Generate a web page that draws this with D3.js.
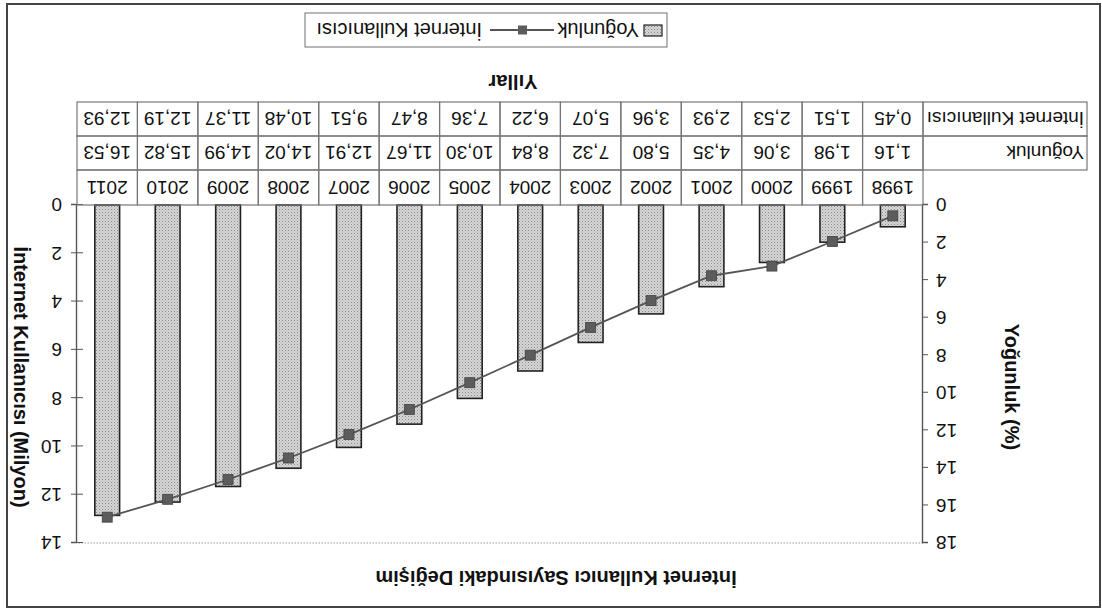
<!DOCTYPE html>
<html><head><meta charset="utf-8">
<script src="https://cdn.jsdelivr.net/npm/d3@7"></script>
<style>body{margin:0;background:#fff}svg{display:block}text{font-family:"Liberation Sans",Arial,sans-serif;fill:#111}</style>
</head><body>
<svg id="c" width="1102" height="612"></svg>
<script>
const years = [1998,1999,2000,2001,2002,2003,2004,2005,2006,2007,2008,2009,2010,2011];
const yogunluk = [1.16,1.98,3.06,4.35,5.80,7.32,8.84,10.30,11.67,12.91,14.02,14.99,15.82,16.53];
const internet = [0.45,1.51,2.53,2.93,3.96,5.07,6.22,7.36,8.47,9.51,10.48,11.37,12.19,12.93];
const leftTicks = [0,2,4,6,8,10,12,14,16,18];
const rightTicks = [0,2,4,6,8,10,12,14];
const title = "İnternet Kullanıcı Sayısındaki Değişim";
const leftTitle = "Yoğunluk (%)";
const rightTitle = "İnternet Kullanıcısı (Milyon)";
const xTitle = "Yıllar";
const seriesNames = ["Yoğunluk","İnternet Kullanıcısı"];

const svg = d3.select("#c");
const defs = svg.append("defs");
const pat = defs.append("pattern").attr("id","dots").attr("width",3).attr("height",3).attr("patternUnits","userSpaceOnUse");
pat.append("rect").attr("width",3).attr("height",3).attr("fill","#d6d6d6");
pat.append("rect").attr("width",1).attr("height",1).attr("fill","#8a8a8a");
pat.append("rect").attr("x",1.5).attr("y",1.5).attr("width",1).attr("height",1).attr("fill","#a8a8a8");

// whole chart is upside down in the reference
const root = svg.append("g").attr("transform","rotate(180,551,306)");

const L = 179, R = 1025, T = 69, B = 407;
const x = d3.scaleBand().domain(years).range([L,R]).paddingInner(0).paddingOuter(0);
const yL = d3.scaleLinear().domain([0,18]).range([B,T]);
const yR = d3.scaleLinear().domain([0,14]).range([B,T]);
const fmt = v => d3.format(".2f")(v).replace(".",",");

// outer border
root.append("rect").attr("x",2).attr("y",5).attr("width",1093).attr("height",603)
  .attr("fill","none").attr("stroke","#444").attr("stroke-width",2);

// title
root.append("text").attr("x",546).attr("y",41).attr("text-anchor","middle")
  .attr("font-size",20).attr("font-weight","bold").text(title);

// plot top border (dotted)
root.append("line").attr("x1",L).attr("x2",R).attr("y1",T).attr("y2",T)
  .attr("stroke","#999").attr("stroke-width",1.2).attr("stroke-dasharray","1.5,1.5");

// bars
const bw = x.bandwidth()*0.41;
root.append("g").selectAll("rect").data(years).join("rect")
  .attr("x",(d,i)=>x(d)+x.bandwidth()/2-bw/2)
  .attr("y",(d,i)=>yL(yogunluk[i]))
  .attr("width",bw)
  .attr("height",(d,i)=>B-yL(yogunluk[i]))
  .attr("fill","url(#dots)").attr("stroke","#222").attr("stroke-width",1.6);

// line
const line = d3.line().x((d,i)=>x(years[i])+x.bandwidth()/2).y(d=>yR(d));
root.append("path").datum(internet).attr("d",line).attr("fill","none")
  .attr("stroke","#555").attr("stroke-width",1.8);
root.append("g").selectAll("rect").data(internet).join("rect")
  .attr("x",(d,i)=>x(years[i])+x.bandwidth()/2-5)
  .attr("y",d=>yR(d)-5).attr("width",10).attr("height",10)
  .attr("fill","#5c5c5c").attr("stroke","#444").attr("stroke-width",0.8);

// left axis
const axL = d3.axisLeft(yL).tickValues(leftTicks).tickSize(5).tickPadding(8);
const gL = root.append("g").attr("transform",`translate(${L},0)`).call(axL);
gL.select(".domain").attr("stroke","#555").attr("stroke-width",1.4);
gL.selectAll(".tick line").attr("stroke","#555");
gL.selectAll("text").attr("font-size",19).attr("font-family","Liberation Sans").attr("fill","#111");

// right axis (cross ticks)
const axR = d3.axisRight(yR).tickValues(rightTicks).tickSize(6).tickPadding(9);
const gR = root.append("g").attr("transform",`translate(${R},0)`).call(axR);
gR.select(".domain").attr("stroke","#555").attr("stroke-width",1.4);
gR.selectAll(".tick line").attr("stroke","#555").attr("x1",-6);
gR.selectAll("text").attr("font-size",19).attr("font-family","Liberation Sans").attr("fill","#111");

// axis titles
root.append("text").attr("transform","translate(97,225) rotate(-90)").attr("text-anchor","middle")
  .attr("font-size",20).attr("font-weight","bold").text(leftTitle);
root.append("text").attr("transform","translate(1088,235) rotate(-90)").attr("text-anchor","middle")
  .attr("font-size",20).attr("font-weight","bold").text(rightTitle);

// data table
const rows = [B,442,476,510];
const tg = root.append("g").attr("stroke","#777").attr("stroke-width",1.2);
// year row
years.forEach(d=>{
  tg.append("rect").attr("x",x(d)).attr("y",rows[0]).attr("width",x.bandwidth()).attr("height",rows[1]-rows[0]).attr("fill","none");
});
[yogunluk,internet].forEach((arr,r)=>{
  tg.append("rect").attr("x",15).attr("y",rows[r+1]).attr("width",L-15).attr("height",rows[r+2]-rows[r+1]).attr("fill","none");
  years.forEach(d=>{
    tg.append("rect").attr("x",x(d)).attr("y",rows[r+1]).attr("width",x.bandwidth()).attr("height",rows[r+2]-rows[r+1]).attr("fill","none");
  });
});
const tt = root.append("g").attr("font-size",19);
tt.selectAll("text.yr").data(years).join("text").attr("class","yr")
  .attr("x",d=>x(d)+x.bandwidth()/2).attr("y",(rows[0]+rows[1])/2+7).attr("text-anchor","middle").text(d=>d);
tt.selectAll("text.yg").data(yogunluk).join("text").attr("class","yg")
  .attr("x",(d,i)=>x(years[i])+x.bandwidth()/2).attr("y",(rows[1]+rows[2])/2+7).attr("text-anchor","middle").text(d=>fmt(d));
tt.selectAll("text.in").data(internet).join("text").attr("class","in")
  .attr("x",(d,i)=>x(years[i])+x.bandwidth()/2).attr("y",(rows[2]+rows[3])/2+7).attr("text-anchor","middle").text(d=>fmt(d));
tt.append("text").attr("x",18).attr("y",(rows[1]+rows[2])/2+7).text(seriesNames[0]);
tt.append("text").attr("x",18).attr("y",(rows[2]+rows[3])/2+7).text(seriesNames[1]);

// x title
root.append("text").attr("x",589).attr("y",537).attr("text-anchor","middle")
  .attr("font-size",20).attr("font-weight","bold").text(xTitle);

// legend
const lg = root.append("g");
lg.append("rect").attr("x",435).attr("y",565).attr("width",362).attr("height",34)
  .attr("fill","none").attr("stroke","#888").attr("stroke-width",1.2);
lg.append("rect").attr("x",440).attr("y",576).attr("width",18).attr("height",11)
  .attr("fill","url(#dots)").attr("stroke","#222").attr("stroke-width",1.2);
lg.append("text").attr("x",463).attr("y",589).attr("font-size",20).text(seriesNames[0]);
lg.append("line").attr("x1",548).attr("x2",612).attr("y1",582).attr("y2",582).attr("stroke","#555").attr("stroke-width",1.8);
lg.append("rect").attr("x",575).attr("y",577.5).attr("width",9).attr("height",9).attr("fill","#5c5c5c");
lg.append("text").attr("x",620).attr("y",589).attr("font-size",20).text(seriesNames[1]);
</script>
</body></html>
